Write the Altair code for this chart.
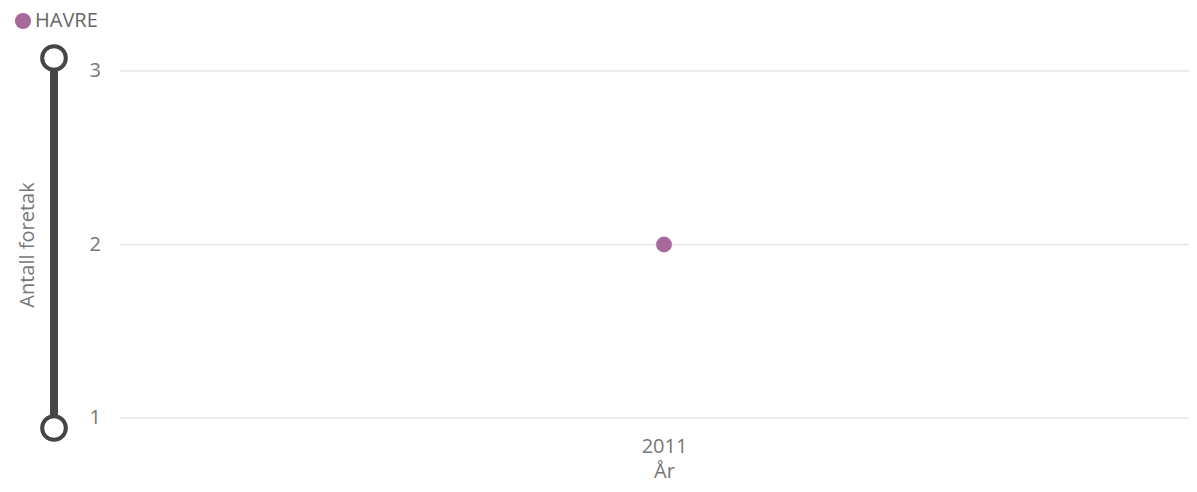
import altair as alt
import pandas as pd

years = ["2011"]
series = ["HAVRE"]
values = [2]
colors = ["#A66999"]
y_ticks = [1, 2, 3]

df = pd.DataFrame({"År": years, "Antall foretak": values, "Serie": series})
ticks_df = pd.DataFrame({"tick": y_ticks})

FONT = "Open Sans"
GREY = "#777777"
W, H = 1069, 347

grid = alt.Chart(ticks_df).mark_rule(color="#e6e6e6", strokeWidth=1.5).encode(
    y=alt.Y("tick:Q"), x=alt.value(0), x2=alt.value(W)
)
labels = alt.Chart(ticks_df).mark_text(
    align="right", baseline="middle", fontSize=20, color=GREY, font=FONT
).encode(y=alt.Y("tick:Q"), x=alt.value(-19), text=alt.Text("tick:Q", format="d"))

points = alt.Chart(df).mark_circle(size=250, opacity=1).encode(
    x=alt.X("År:N", title="År",
            scale=alt.Scale(range=[0, 1088]),
            axis=alt.Axis(labelAngle=0, ticks=False, domain=False, grid=False, labelPadding=18,
                          labelFontSize=20, labelColor=GREY, titleFontSize=20,
                          titleColor=GREY, titleFontWeight="normal", titlePadding=5,
                          labelFont=FONT, titleFont=FONT)),
    y=alt.Y("Antall foretak:Q", title="Antall foretak",
            scale=alt.Scale(domain=[1, 3], nice=False, zero=False),
            axis=alt.Axis(labels=False, ticks=False, domain=False, grid=False,
                          titleFontSize=20, titleColor=GREY, titleFontWeight="normal",
                          titleFont=FONT, titleX=-83, titlePadding=0)),
    color=alt.Color("Serie:N", scale=alt.Scale(domain=series, range=colors),
                    legend=alt.Legend(title=None, orient="none", legendX=-107, legendY=-60,
                                      symbolType="circle", symbolSize=260, symbolOpacity=1,
                                      labelFontSize=20, labelColor="#666666", labelFont=FONT,
                                      symbolStrokeWidth=0, padding=0, labelOffset=2)),
)

slider_bar = alt.Chart(df).mark_rule(color="#454545", strokeWidth=8).encode(
    x=alt.value(-66), y=alt.value(-13), y2=alt.value(357)
)
slider_top = alt.Chart(df).mark_point(
    shape="circle", size=560, filled=True, fill="white", stroke="#454545", strokeWidth=4, opacity=1
).encode(x=alt.value(-66), y=alt.value(-13))
slider_bot = alt.Chart(df).mark_point(
    shape="circle", size=560, filled=True, fill="white", stroke="#454545", strokeWidth=4, opacity=1
).encode(x=alt.value(-66), y=alt.value(357))

chart = alt.layer(grid, labels, slider_bar, slider_top, slider_bot, points).properties(
    width=W, height=H,
    autosize=alt.AutoSizeParams(type="none"),
    padding={"left": 112, "top": 63, "right": 0, "bottom": 72},
).configure(font=FONT).configure_view(stroke=None)

chart.save("out.html", embed_options={"renderer": "svg", "actions": False})
